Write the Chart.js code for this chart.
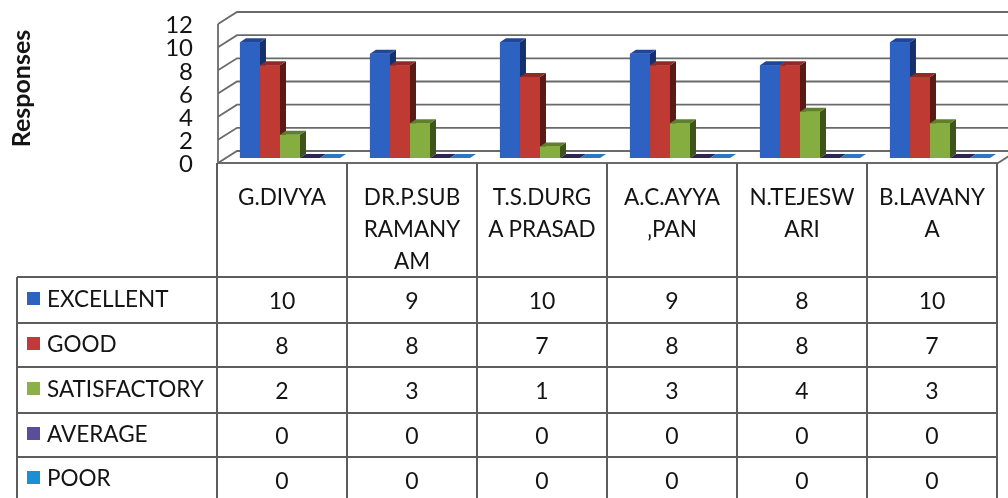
<!DOCTYPE html>
<html><head><meta charset="utf-8">
<script src="https://cdn.jsdelivr.net/npm/chart.js@4.4.0/dist/chart.umd.min.js"></script>
<style>
html,body{margin:0;padding:0;background:#fff;}
#wrap{position:relative;width:1008px;height:498px;overflow:hidden;font-family:Lato,'Open Sans',sans-serif;color:#141414;background:#fff;}
canvas{position:absolute;left:0;top:0;}
.ln{position:absolute;background:#5c5c5c;}
.cell{position:absolute;display:flex;align-items:center;justify-content:center;font-size:23px;}
.hdr{position:absolute;text-align:center;font-size:22.5px;line-height:32px;}
.lg{position:absolute;display:flex;align-items:center;font-size:22.5px;}
.sw{width:13px;height:13px;margin-right:7px;flex:none;}
</style></head>
<body><div id="wrap"><canvas id="c" width="1008" height="498"></canvas></div>
<script>
// ---- data ----
const categories = [["G.DIVYA"],["DR.P.SUB","RAMANY","AM"],["T.S.DURG","A PRASAD"],["A.C.AYYA","‚PAN"],["N.TEJESW","ARI"],["B.LAVANY","A"]];
const seriesNames = ["EXCELLENT","GOOD","SATISFACTORY","AVERAGE","POOR"];
const excellent = [10,9,10,9,8,10];
const good = [8,8,7,8,8,7];
const satisfactory = [2,3,1,3,4,3];
const average = [0,0,0,0,0,0];
const poor = [0,0,0,0,0,0];
const yTicks = [0,2,4,6,8,10,12];

// ---- styles ----
const values = [excellent, good, satisfactory, average, poor];
const frontColors = ["#2d62c2","#bf3a33","#85ad3f","#5b4a9a","#1b93d6"];
const topColors   = ["#1f4796","#8f2a25","#5f7f2a","#2e2552","#2a78c2"];
const sideColors  = ["#15306a","#5a1a16","#3d541b","#231c40","#1c5a94"];
const swatchColors= ["#2b63be","#c0393b","#8bb046","#5a4d9a","#1a8fd6"];
const FRONT = {dx:-7, dy:5}, BACK = {dx:12, dy:-7}, DEPTH = {dx:6, dy:-4};

const threeD = {
  id:'threeD',
  beforeDatasetsDraw(chart){
    const ctx = chart.ctx, s = chart.scales.y, a = chart.chartArea;
    ctx.save();
    ctx.strokeStyle = '#6a6a6a';
    ctx.lineWidth = 1.8;
    yTicks.forEach(v=>{
      const y = s.getPixelForValue(v);
      ctx.beginPath();
      ctx.moveTo(a.left+FRONT.dx, y+FRONT.dy);
      ctx.lineTo(a.left+BACK.dx, y+BACK.dy);
      ctx.lineTo(chart.width, y+BACK.dy);
      ctx.stroke();
    });
    const yTop = s.getPixelForValue(yTicks[yTicks.length-1]), y0 = s.getPixelForValue(0);
    ctx.beginPath();
    ctx.moveTo(a.left+FRONT.dx, yTop+FRONT.dy);
    ctx.lineTo(a.left+FRONT.dx, y0+FRONT.dy);
    ctx.lineTo(a.right+FRONT.dx, y0+FRONT.dy);
    ctx.lineTo(a.right+BACK.dx, y0+BACK.dy);
    ctx.stroke();
    ctx.restore();
  },
  afterDatasetsDraw(chart){
    const ctx = chart.ctx;
    ctx.save();
    const n = chart.data.labels.length;
    for(let i=0;i<n;i++){
      for(let d=0; d<chart.data.datasets.length; d++){
        const el = chart.getDatasetMeta(d).data[i];
        const p = el.getProps(['x','y','base','width'], true);
        const L = p.x - p.width/2, R = p.x + p.width/2, T = p.y, B = p.base;
        ctx.fillStyle = sideColors[d];
        ctx.beginPath();
        ctx.moveTo(R,T); ctx.lineTo(R+DEPTH.dx,T+DEPTH.dy); ctx.lineTo(R+DEPTH.dx,B+DEPTH.dy); ctx.lineTo(R,B); ctx.closePath(); ctx.fill();
        ctx.fillStyle = topColors[d];
        ctx.beginPath();
        ctx.moveTo(L,T); ctx.lineTo(L+DEPTH.dx,T+DEPTH.dy); ctx.lineTo(R+DEPTH.dx,T+DEPTH.dy); ctx.lineTo(R,T); ctx.closePath(); ctx.fill();
        ctx.fillStyle = frontColors[d];
        ctx.fillRect(L, T, p.width, B-T);
      }
    }
    ctx.restore();
  }
};

new Chart(document.getElementById('c'), {
  type:'bar',
  data:{
    labels: categories.map(c=>c.join('')),
    datasets: seriesNames.map((nm,i)=>({label:nm, data:values[i], backgroundColor:frontColors[i], borderWidth:0}))
  },
  options:{
    responsive:false, animation:false, events:[],
    layout:{padding:{left:0,right:3,top:19,bottom:340}},
    datasets:{bar:{barPercentage:1, categoryPercentage:0.77}},
    plugins:{legend:{display:false}, tooltip:{enabled:false}},
    scales:{
      x:{display:false},
      y:{
        min:0, max:12,
        afterFit(sc){ sc.width = 225; sc.paddingTop = 10; sc.paddingBottom = 10; },
        afterBuildTicks(sc){ sc.ticks = yTicks.map(v=>({value:v})); },
        grid:{display:false, drawTicks:false}, border:{display:false},
        ticks:{autoSkip:false, padding:32, labelOffset:6.5, color:'#141414', font:{family:'Lato', size:24, lineHeight:1}},
        title:{display:true, text:'Responses', color:'#141414', font:{family:'Lato', size:25, weight:'bold'}, padding:{top:7,bottom:0}}
      }
    }
  },
  plugins:[threeD]
});

// ---- data table ----
const wrap = document.getElementById('wrap');
const colX = [217,347,477,607,737,867,997];
const rowY = [277,323,367,413,457,502];
const headTop = 163, legLeft = 17;
function line(x,y,w,h){ const e=document.createElement('div'); e.className='ln'; e.style.left=x+'px'; e.style.top=y+'px'; e.style.width=w+'px'; e.style.height=h+'px'; wrap.appendChild(e); }
colX.forEach(x=>line(x-1, headTop, 2, 498-headTop));
line(legLeft-1, rowY[0], 2, 498-rowY[0]);
rowY.slice(0,5).forEach(y=>line(legLeft, y-1, colX[6]-legLeft+1, 2));
categories.forEach((c,i)=>{
  const e=document.createElement('div'); e.className='hdr';
  e.style.left=colX[i]+'px'; e.style.width='130px'; e.style.top=(headTop+18)+'px';
  e.innerHTML = c.join('<br>');
  wrap.appendChild(e);
});
seriesNames.forEach((nm,r)=>{
  const top=rowY[r], h=rowY[r+1]-rowY[r];
  const g=document.createElement('div'); g.className='lg';
  g.style.left=(legLeft+10)+'px'; g.style.top=(top-2)+'px'; g.style.height=h+'px'; g.style.width='190px';
  const sw=document.createElement('span'); sw.className='sw'; sw.style.background=swatchColors[r];
  g.appendChild(sw); g.appendChild(document.createTextNode(nm));
  wrap.appendChild(g);
  values[r].forEach((v,i)=>{
    const e=document.createElement('div'); e.className='cell';
    e.style.left=colX[i]+'px'; e.style.width='130px'; e.style.top=top+'px'; e.style.height=h+'px';
    e.textContent=v; wrap.appendChild(e);
  });
});
</script>
</body></html>
